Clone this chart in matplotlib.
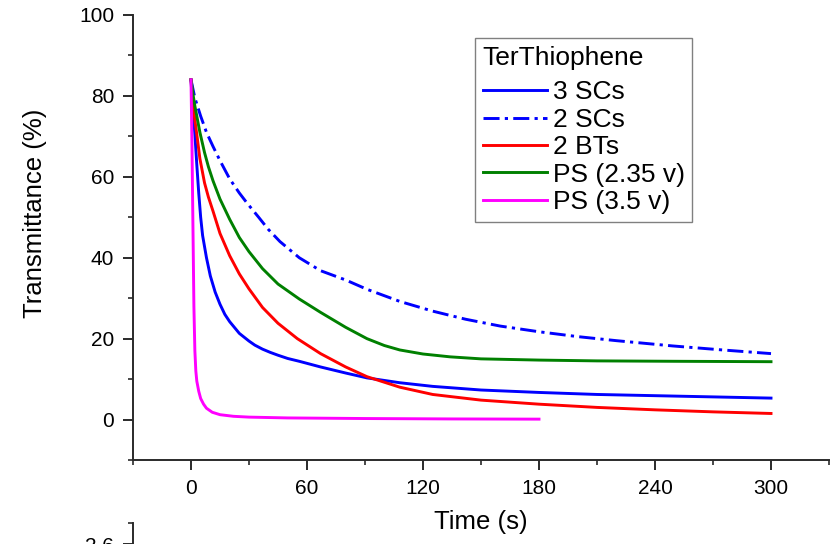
import matplotlib
matplotlib.use("Agg")
import matplotlib.pyplot as plt
from matplotlib.ticker import MultipleLocator

plt.rcParams['font.family'] = ['Liberation Sans', 'DejaVu Sans']

# data (time in s, transmittance in %)
t_3sc = [0, 0.5, 1, 2, 3, 4, 5, 6, 8, 10, 12.5, 15, 17.5, 20, 25, 30, 33, 37, 41, 45, 50, 56, 67,
         80, 91, 108, 125, 150, 180, 210, 250, 300]
v_3sc = [84, 80, 77, 70.5, 63, 56, 50, 45.5, 40, 35.5, 31.5, 28.5, 26, 24.2, 21.3, 19.4, 18.4,
         17.4, 16.6, 15.9, 15.1, 14.4, 13, 11.5, 10.3, 9.1, 8.2, 7.3, 6.7, 6.2, 5.8, 5.3]

t_2sc = [0, 2, 5, 8, 11.4, 15, 20, 25, 29, 35, 40, 46, 56, 67, 80, 91, 108, 125, 142, 160, 180,
         200, 220, 249, 275, 300]
v_2sc = [84, 79.5, 75, 71, 67.5, 64, 59.5, 56, 53.5, 50, 47, 44, 40, 36.8, 34.5, 32.2, 29.2,
         26.8, 24.8, 23.1, 21.7, 20.5, 19.5, 18.2, 17.2, 16.3]

t_2bt = [0, 1, 2, 3, 4.6, 7, 9, 11.4, 15, 20, 25, 30, 37, 45, 55, 67, 80, 91, 108, 125, 150, 180,
         210, 240, 270, 300]
v_2bt = [84, 78.5, 74, 70.5, 64.5, 58.5, 55, 51.5, 46, 40.5, 36, 32.3, 27.7, 23.8, 20, 16.3, 13,
         10.6, 8, 6.2, 4.8, 3.8, 3.0, 2.4, 1.9, 1.5]

t_ps235 = [0, 1, 2, 3, 4.6, 7, 9, 11.4, 15, 20, 25, 30, 37, 45, 56, 67, 80, 91, 100, 108, 120,
           134, 150, 180, 210, 250, 300]
v_ps235 = [84, 80.5, 77.5, 75, 71, 66, 62.5, 59, 54.5, 49.5, 45, 41.5, 37.3, 33.5, 29.8, 26.5,
           22.8, 20, 18.3, 17.2, 16.2, 15.5, 15.0, 14.7, 14.5, 14.4, 14.3]

t_ps35 = [0, 0.5, 1, 1.5, 2, 2.5, 3, 4, 5, 6.5, 8, 11, 15, 22, 30, 50, 90, 135, 180]
v_ps35 = [84, 68, 48, 28, 17, 12, 9.5, 7, 5.2, 3.8, 2.8, 1.8, 1.2, 0.8, 0.6, 0.4, 0.25, 0.15, 0.1]

fig = plt.figure(figsize=(8.32, 5.44), dpi=100)
ax = fig.add_axes([133/832, 1 - 460/544, 696/832, 445/544])

lw = 2.1
ax.plot(t_3sc, v_3sc, color='#0000FF', lw=lw, label='3 SCs')
ax.plot(t_2sc, v_2sc, color='#0000FF', lw=lw, dashes=(5.5, 1.8, 1.1, 1.8), label='2 SCs')
ax.plot(t_2bt, v_2bt, color='#FF0000', lw=lw, label='2 BTs')
ax.plot(t_ps235, v_ps235, color='#008000', lw=lw, label='PS (2.35 v)')
ax.plot(t_ps35, v_ps35, color='#FF00FF', lw=lw, label='PS (3.5 v)')

ax.set_xlim(-30, 330)
ax.set_ylim(-10, 100)
ax.xaxis.set_major_locator(MultipleLocator(60))
ax.xaxis.set_minor_locator(MultipleLocator(30))
ax.yaxis.set_major_locator(MultipleLocator(20))
ax.yaxis.set_minor_locator(MultipleLocator(10))

for s in ['top', 'right']:
    ax.spines[s].set_visible(False)
for s in ['left', 'bottom']:
    ax.spines[s].set_linewidth(1.4)
    ax.spines[s].set_color('#2a2a2a')

ax.tick_params(which='major', direction='out', length=7, width=1.4, color='#2a2a2a',
               labelsize=15, pad=6.5)
ax.tick_params(which='minor', direction='out', length=3.6, width=1.2, color='#2a2a2a')

ax.set_xlabel('Time (s)', fontsize=18.5)
ax.set_ylabel('Transmittance (%)', fontsize=18.5)
ax.xaxis.set_label_coords(0.5, -0.112)
ax.yaxis.set_label_coords(-0.124, 0.555)

fs = 19
leg = ax.legend(title='TerThiophene', loc='upper left', bbox_to_anchor=(0.491, 0.948),
                borderaxespad=0, fontsize=fs, title_fontsize=fs, alignment='left',
                fancybox=False, framealpha=1, edgecolor='#808080',
                handlelength=2.45, handletextpad=0.2, labelspacing=0.13,
                borderpad=0.3)
leg.get_frame().set_linewidth(1.0)
leg._legend_box.sep = 0.13 * fs + 5

# top of the next panel, cut off by the image edge
ax2 = fig.add_axes([133/832, -0.2, 696/832, 0.2 + (1 - 523/544)])
ax2.set_ylim(2.341, 2.65)
ax2.set_yticks([2.6])
ax2.yaxis.set_minor_locator(MultipleLocator(0.05))
for s in ['top', 'right', 'bottom']:
    ax2.spines[s].set_visible(False)
ax2.spines['left'].set_linewidth(1.4)
ax2.spines['left'].set_color('#2a2a2a')
ax2.set_xticks([])
ax2.tick_params(which='major', direction='out', length=7, width=1.4, color='#2a2a2a',
                labelsize=15, pad=6.5)
ax2.tick_params(which='minor', direction='out', length=3.6, width=1.2, color='#2a2a2a')
ax2.patch.set_visible(False)

fig.savefig('out.png', dpi=100)
